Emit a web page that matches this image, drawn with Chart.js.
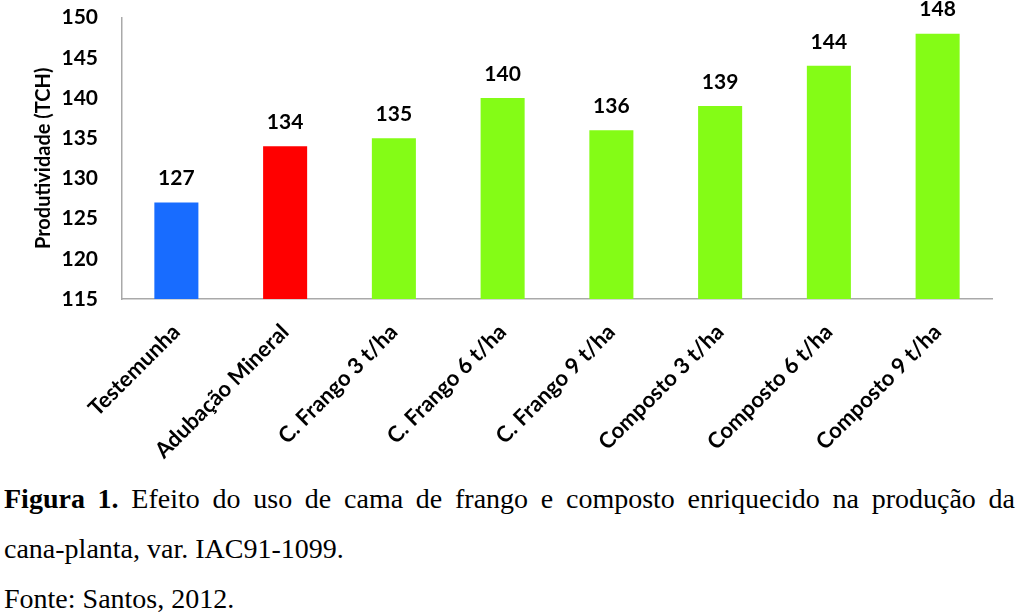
<!DOCTYPE html>
<html>
<head>
<meta charset="utf-8">
<script src="https://cdn.jsdelivr.net/npm/chart.js@4"></script>
<style>
  html, body { margin: 0; padding: 0; background: #fff; overflow: hidden; }
  body { width: 1024px; height: 615px; position: relative; }
  #chartBox { position: absolute; left: 0; top: -19px; width: 1024px; height: 489px; }
  .cap {
    position: absolute; left: 4px; width: 1011px; margin: 0;
    font-family: "Liberation Serif", "Times New Roman", serif;
    font-size: 28px; line-height: 50px; color: #000;
    text-align: justify;
  }
  .nw { white-space: nowrap; }
  #fig { top: 474px; }
  #src { top: 574px; }
</style>
</head>
<body>
<div id="chartBox"><canvas id="prodChart"></canvas></div>
<p class="cap" id="fig"><b>Figura 1.</b> Efeito do uso de cama de frango e composto enriquecido na produção da <span class="nw">cana-planta,</span> var. IAC91-1099.</p>
<p class="cap" id="src">Fonte: Santos, 2012.</p>

<script>
// dados
const categories = [
  'Testemunha', 'Adubação Mineral', 'C. Frango 3 t/ha', 'C. Frango 6 t/ha',
  'C. Frango 9 t/ha', 'Composto 3 t/ha', 'Composto 6 t/ha', 'Composto 9 t/ha'
];
const productivity = [127, 134, 135, 140, 136, 139, 144, 148];
const barColors = ['#186cff', '#ff0000', '#84fc16', '#84fc16', '#84fc16', '#84fc16', '#84fc16', '#84fc16'];
const yTicks = [115, 120, 125, 130, 135, 140, 145, 150];

const FONT = 'Lato, "Open Sans", sans-serif';
const AXIS_GRAY = '#a9a9a9';

// rótulos de valor acima das barras
const valueLabels = {
  id: 'valueLabels',
  afterDatasetsDraw(chart) {
    const ctx = chart.ctx;
    const meta = chart.getDatasetMeta(0);
    ctx.save();
    ctx.font = 'bold 21px ' + FONT;
    ctx.fillStyle = '#000';
    ctx.textAlign = 'center';
    ctx.textBaseline = 'middle';
    meta.data.forEach((bar, i) => {
      ctx.fillText(String(productivity[i]), bar.x, bar.y - 24);
    });
    ctx.restore();
  }
};

Chart.defaults.color = '#000';

new Chart(document.getElementById('prodChart').getContext('2d'), {
  type: 'bar',
  data: {
    labels: categories,
    datasets: [{
      data: productivity,
      backgroundColor: barColors,
      borderWidth: 0,
      barPercentage: 0.405,
      categoryPercentage: 1
    }]
  },
  options: {
    responsive: true,
    maintainAspectRatio: false,
    animation: false,
    layout: { padding: { top: 16, right: 32, left: 0, bottom: 0 } },
    plugins: {
      legend: { display: false },
      tooltip: { enabled: false }
    },
    scales: {
      x: {
        grid: { display: false, drawTicks: false },
        border: { display: true, color: AXIS_GRAY, width: 1.5 },
        ticks: {
          autoSkip: false,
          minRotation: 45,
          maxRotation: 45,
          padding: 20,
          font: { family: FONT, size: 22, weight: 'bold' }
        },
        afterFit(scale) { scale.height = 171; }
      },
      y: {
        min: 115,
        max: 150,
        afterBuildTicks(scale) { scale.ticks = yTicks.map(v => ({ value: v })); },
        grid: { display: false, drawTicks: false },
        border: { display: true, color: AXIS_GRAY, width: 1.5 },
        ticks: {
          padding: 24,
          font: { family: FONT, size: 21, weight: 'bold' }
        },
        title: {
          display: true,
          text: 'Produtividade (TCH)',
          padding: { top: 32, bottom: 0 },
          font: { family: FONT, size: 20, weight: 'bold' }
        },
        afterFit(scale) { scale.width = 122; }
      }
    }
  },
  plugins: [valueLabels]
});
</script>
</body>
</html>
